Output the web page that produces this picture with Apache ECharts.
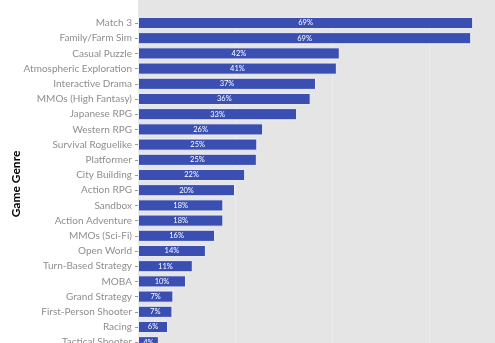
<!DOCTYPE html>
<html>
<head>
<meta charset="utf-8">
<script src="https://cdn.jsdelivr.net/npm/echarts@6/dist/echarts.min.js"></script>
<style>html,body{margin:0;padding:0;background:#fff;}#c{width:495px;height:343px;}</style>
</head>
<body>
<div id="c"></div>
<script>
const genres = ["Match 3","Family/Farm Sim","Casual Puzzle","Atmospheric Exploration","Interactive Drama","MMOs (High Fantasy)","Japanese RPG","Western RPG","Survival Roguelike","Platformer","City Building","Action RPG","Sandbox","Action Adventure","MMOs (Sci-Fi)","Open World","Turn-Based Strategy","MOBA","Grand Strategy","First-Person Shooter","Racing","Tactical Shooter"];
const shares = [69.1,68.7,41.6,41.0,36.7,35.6,32.8,25.8,24.6,24.5,22.1,20.0,17.6,17.6,15.9,14.0,11.3,9.9,7.3,7.1,6.2,4.3];
const xTicks = [0,20,40,60];
const axisTitle = "Game Genre";

const chart = echarts.init(document.getElementById('c'));
const bandStep = 15.2;
const gridTop = 15.4;
const gridBottom = 343 - (gridTop + bandStep*genres.length);
chart.setOption({
  animation:false,
  graphic:[
    {type:'rect',z:-10,shape:{x:138,y:0,width:357,height:16},style:{fill:'#e5e5e5'}},
    {type:'text',x:16.5,y:184,rotation:Math.PI/2,
      style:{text:axisTitle,fontFamily:'Lato',fontWeight:'bold',fontSize:12,fill:'#000',
        align:'center',verticalAlign:'middle'}}
  ],
  grid:{left:138,right:0,top:gridTop,bottom:gridBottom,outerBoundsMode:'none',containLabel:false,
    show:true,backgroundColor:'#e5e5e5',borderWidth:0},
  xAxis:{type:'value',min:xTicks[0],max:73.6,interval:xTicks[1]-xTicks[0],show:true,
    axisLine:{show:false},axisTick:{show:false},axisLabel:{show:false},
    splitLine:{show:true,lineStyle:{color:'#ececec',width:1}}},
  yAxis:{type:'category',data:genres,inverse:true,
    axisLine:{show:false},
    axisTick:{show:true,alignWithLabel:true,length:3,lineStyle:{color:'#999'}},
    axisLabel:{fontFamily:'Lato',fontSize:10,color:'#8e8e8e',margin:6}},
  series:[{type:'bar',data:shares,barWidth:'80%',
    itemStyle:{color:'#3b4fb2',borderColor:'#eef0fa',borderWidth:1},
    label:{show:true,position:'inside',fontFamily:'Lato',fontSize:7.5,color:'#fff',
      formatter:p=>Math.round(p.value)+'%'}}]
});
</script>
</body>
</html>
